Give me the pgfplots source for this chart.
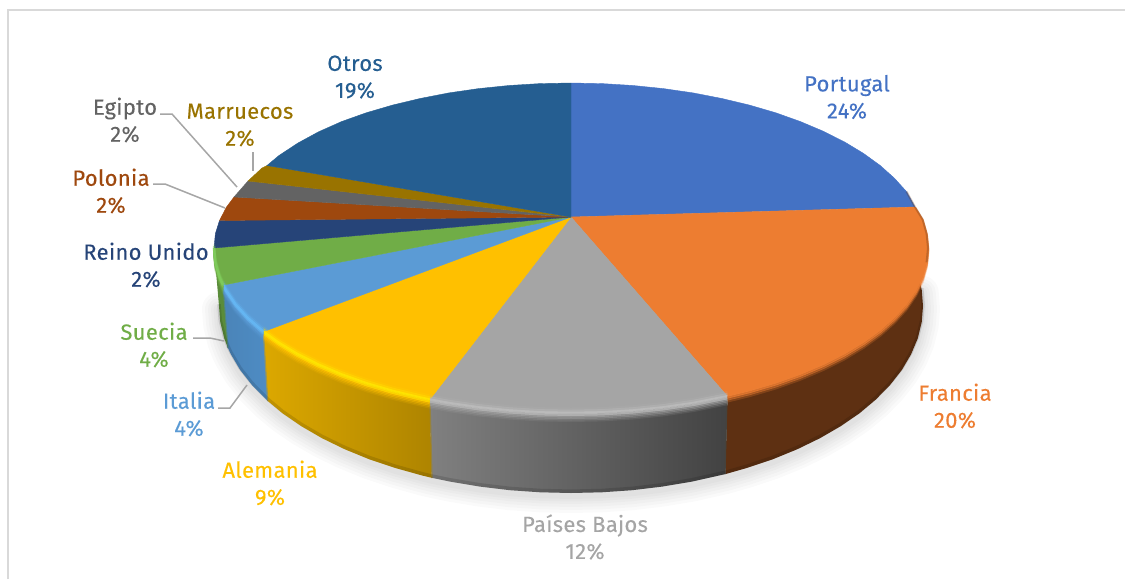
\documentclass[border=0pt]{standalone}
\usepackage{fontspec}
\setmainfont[FakeBold=0.12,LetterSpace=1.5]{Fira Sans}
\usepackage{pgfplots}
\usepackage{pgfplotstable}
\pgfplotsset{compat=1.18}
\definecolor{cPor}{HTML}{4472C4}
\definecolor{cFra}{HTML}{ED7D31}
\definecolor{cPai}{HTML}{A5A5A5}
\definecolor{cAle}{HTML}{FFC000}
\definecolor{cIta}{HTML}{5B9BD5}
\definecolor{cSue}{HTML}{70AD47}
\definecolor{cRei}{HTML}{264478}
\definecolor{cPol}{HTML}{9E480E}
\definecolor{cEgi}{HTML}{636363}
\definecolor{cMar}{HTML}{997300}
\definecolor{cOtr}{HTML}{255E91}
\definecolor{leader}{HTML}{A6A6A6}
\definecolor{frame}{HTML}{D9D9D9}
\definecolor{hiPai}{HTML}{BDBDBD}
\definecolor{hiAle}{HTML}{FFE600}
\definecolor{hiIta}{HTML}{66B8F5}
\definecolor{hiSue}{HTML}{80CC5C}
% top faces
\pgfplotstableread{
x y
571 217
571 83
602.1 83.6
633 85.5
663.4 88.6
693.1 92.9
721.9 98.5
749.5 105.1
775.8 112.8
800.5 121.6
823.4 131.3
844.5 141.9
863.5 153.4
880.2 165.5
894.5 178.3
906.5 191.6
915 207
}\topPor
\pgfplotstableread{
x y
915 207
922.6 219.4
926.6 233.6
928 248
926.6 262.4
922.6 276.6
915.8 290.7
906.5 304.4
894.5 317.7
880.2 330.5
863.5 342.6
844.5 354.1
823.4 364.7
800.5 374.4
775.8 383.2
749.5 390.9
727.5 396.3
}\arcFra
\pgfplotstableread{
x y
571 217
915 207
922.6 219.4
926.6 233.6
928 248
926.6 262.4
922.6 276.6
915.8 290.7
906.5 304.4
894.5 317.7
880.2 330.5
863.5 342.6
844.5 354.1
823.4 364.7
800.5 374.4
775.8 383.2
749.5 390.9
727.5 396.3
}\topFra
\pgfplotstableread{
x y
727.5 396.3
693.1 403.1
663.4 407.4
633 410.5
602.1 412.4
571 413
539.9 412.4
509 410.5
478.6 407.4
448.9 403.1
429.8 399.6
}\arcPai
\pgfplotstableread{
x y
571 217
727.5 396.3
693.1 403.1
663.4 407.4
633 410.5
602.1 412.4
571 413
539.9 412.4
509 410.5
478.6 407.4
448.9 403.1
429.8 399.6
}\topPai
\pgfplotstableread{
x y
429.8 399.6
420.1 397.5
392.5 390.9
366.2 383.2
341.5 374.4
318.6 364.7
297.5 354.1
278.5 342.6
263.4 331.7
}\arcAle
\pgfplotstableread{
x y
571 217
429.8 399.6
420.1 397.5
392.5 390.9
366.2 383.2
341.5 374.4
318.6 364.7
297.5 354.1
278.5 342.6
263.4 331.7
}\topAle
\pgfplotstableread{
x y
263.4 331.7
247.5 317.7
235.5 304.4
226.2 290.7
223.1 285.1
}\arcIta
\pgfplotstableread{
x y
571 217
263.4 331.7
247.5 317.7
235.5 304.4
226.2 290.7
223.1 285.1
}\topIta
\pgfplotstableread{
x y
223.1 285.1
219.4 276.6
215.4 262.4
214 248
}\arcSue
\pgfplotstableread{
x y
571 217
223.1 285.1
219.4 276.6
215.4 262.4
214 248
}\topSue
\pgfplotstableread{
x y
571 217
214 248
215.4 233.6
219.5 220.5
}\topRei
\pgfplotstableread{
x y
571 217
219.5 220.5
226.5 207
234 197
}\topPol
\pgfplotstableread{
x y
571 217
234 197
248 181
}\topEgi
\pgfplotstableread{
x y
571 217
248 181
262 168
267 165.5
}\topMar
\pgfplotstableread{
x y
571 217
267 165.5
279 155.5
298 143
318.6 131.8
341.5 121.6
366.2 112.8
392.5 105.1
420.1 98.5
448.9 92.9
478.6 88.6
509 85.5
539.9 83.6
571 83
}\topOtr
% side faces
\pgfplotstableread{
x y
915 207
922.6 219.4
926.6 233.6
928 248
926.6 262.4
922.6 276.6
915.8 290.7
906.5 304.4
894.5 317.7
880.2 330.5
863.5 342.6
844.5 354.1
823.4 364.7
800.5 374.4
775.8 383.2
749.5 390.9
727.5 396.3
725.3 474.1
747 467.9
772.9 459.2
797.3 449.2
819.9 438.2
840.6 426.2
859.4 413.3
875.8 399.5
890 385
901.8 370
911 354.4
917.7 338.5
921.7 322.3
923 306
921.7 289.7
917.7 273.5
911 257.6
}\sideFra
\pgfplotstableread{
x y
727.5 396.3
693.1 403.1
663.4 407.4
633 410.5
602.1 412.4
571 413
539.9 412.4
509 410.5
478.6 407.4
448.9 403.1
429.8 399.6
431.8 477.8
450.6 481.7
479.9 486.6
509.9 490.2
540.3 492.3
571 493
601.7 492.3
632.1 490.2
662.1 486.6
691.4 481.7
725.3 474.1
}\sidePai
\pgfplotstableread{
x y
429.8 399.6
420.1 397.5
392.5 390.9
366.2 383.2
341.5 374.4
318.6 364.7
297.5 354.1
278.5 342.6
263.4 331.7
267.7 400.9
282.6 413.3
301.4 426.2
322.1 438.2
344.7 449.2
369.1 459.2
395 467.9
422.2 475.5
431.8 477.8
}\sideAle
\pgfplotstableread{
x y
263.4 331.7
247.5 317.7
235.5 304.4
226.2 290.7
223.1 285.1
228 348.1
231 354.4
240.2 370
252 385
267.7 400.9
}\sideIta
\pgfplotstableread{
x y
223.1 285.1
219.4 276.6
215.4 262.4
214 248
219 306
220.3 322.3
224.3 338.5
228 348.1
}\sideSue
% bottom edge
\pgfplotstableread{
x y
921.7 289.7
923 306
921.7 322.3
917.7 338.5
911 354.4
901.8 370
890 385
875.8 399.5
859.4 413.3
840.6 426.2
819.9 438.2
797.3 449.2
772.9 459.2
747 467.9
725.3 474.1
691.4 481.7
662.1 486.6
632.1 490.2
601.7 492.3
571 493
540.3 492.3
509.9 490.2
479.9 486.6
450.6 481.7
431.8 477.8
422.2 475.5
395 467.9
369.1 459.2
344.7 449.2
322.1 438.2
301.4 426.2
282.6 413.3
267.7 400.9
252 385
240.2 370
231 354.4
228 348.1
224.3 338.5
220.3 322.3
219 306
}\botArc
\newcommand\rim[3]{%
  \addplot[#2,opacity=.15,line width=2pt,yshift=-8pt] table {#1};
  \addplot[#2,opacity=.3,line width=2pt,yshift=-6.5pt] table {#1};
  \addplot[#2,opacity=.5,line width=2pt,yshift=-5pt] table {#1};
  \addplot[#2,opacity=.7,line width=2pt,yshift=-3.5pt] table {#1};
  \addplot[#2,opacity=.9,line width=2pt,yshift=-2pt] table {#1};
  \addplot[#3,opacity=.5,line width=2pt,yshift=-2pt] table {#1};
  \addplot[#3,opacity=.9,line width=2.5pt,yshift=0pt] table {#1};
  \addplot[#3,opacity=.4,line width=2.5pt,yshift=2pt] table {#1};
  \addplot[#3,opacity=.12,line width=2.5pt,yshift=4pt] table {#1};
}
\newcommand\shad[1]{\addplot[black,opacity=.02,line width=#1pt,line join=round,line cap=round,yshift=-3pt] table {\botArc};}
\newcommand\lab[4]{\node[text=#3,align=center,inner sep=0pt,font=\fontsize{22}{27}\selectfont] at (axis cs:#1,#2) {#4};}
\begin{document}
\begin{tikzpicture}
\begin{axis}[
  scale only axis, width=1125pt, height=579pt,
  xmin=0, xmax=1125, ymin=0, ymax=579, y dir=reverse,
  axis line style={draw=none}, ticks=none, clip=true,
]
% frame
\addplot[frame,line width=2pt] coordinates {(8,579)(8,10)(1125,10)};
% soft shadow
\shad{34}\shad{28}\shad{22}\shad{16}\shad{11}\shad{6}
% sides
\addplot[draw=none,fill={rgb,255:red,94;green,48;blue,18}] table {\sideFra} --cycle;
\addplot[draw=none,left color={rgb,255:red,128;green,128;blue,128},right color={rgb,255:red,66;green,66;blue,66}] table {\sidePai} --cycle;
\addplot[draw=none,left color={rgb,255:red,220;green,168;blue,0},right color={rgb,255:red,174;green,132;blue,0}] table {\sideAle} --cycle;
\addplot[draw=none,left color={rgb,255:red,74;green,132;blue,184},right color={rgb,255:red,78;green,140;blue,196}] table {\sideIta} --cycle;
\addplot[draw=none,fill={rgb,255:red,90;green,140;blue,58}] table {\sideSue} --cycle;
% seams
\addplot[color={rgb,255:red,70;green,66;blue,60},line width=1.2pt] coordinates {(727,396)(725,474)};
\addplot[color={rgb,255:red,150;green,130;blue,60},line width=1.2pt] coordinates {(430,400)(432,478)};
\addplot[color={rgb,255:red,150;green,150;blue,90},line width=1.2pt] coordinates {(263.4,332)(267.7,401)};
\addplot[color={rgb,255:red,80;green,135;blue,130},line width=1pt] coordinates {(223,285)(228,348)};
% dark lower edge
\addplot[black,opacity=.12,line width=3.5pt,yshift=1.8pt] table {\botArc};
% top faces
\addplot[cPor,fill=cPor,line width=.4pt] table {\topPor} --cycle;
\addplot[cFra,fill=cFra,line width=.4pt] table {\topFra} --cycle;
\addplot[cPai,fill=cPai,line width=.4pt] table {\topPai} --cycle;
\addplot[cAle,fill=cAle,line width=.4pt] table {\topAle} --cycle;
\addplot[cIta,fill=cIta,line width=.4pt] table {\topIta} --cycle;
\addplot[cSue,fill=cSue,line width=.4pt] table {\topSue} --cycle;
\addplot[cRei,fill=cRei,line width=.4pt] table {\topRei} --cycle;
\addplot[cPol,fill=cPol,line width=.4pt] table {\topPol} --cycle;
\addplot[cEgi,fill=cEgi,line width=.4pt] table {\topEgi} --cycle;
\addplot[cMar,fill=cMar,line width=.4pt] table {\topMar} --cycle;
\addplot[cOtr,fill=cOtr,line width=.4pt] table {\topOtr} --cycle;
% bevels
\rim{\arcPai}{cPai}{hiPai}
\rim{\arcAle}{cAle}{hiAle}
\rim{\arcIta}{cIta}{hiIta}
\rim{\arcSue}{cSue}{hiSue}
\addplot[cFra,opacity=.25,line width=2.5pt,yshift=-5pt] table {\arcFra};
\addplot[cFra,opacity=.55,line width=2.5pt,yshift=-3pt] table {\arcFra};
\addplot[cFra,opacity=.85,line width=2.5pt,yshift=-1pt] table {\arcFra};
\addplot[black!60!cFra,opacity=.3,line width=2pt] coordinates {(906.5,191.6)(915,207)(922.6,219.4)(926.6,233.6)(928,248)(926.6,262.4)};
% leader lines
\addplot[leader,line width=1.5pt] coordinates {(253,152)(253,171)};
\addplot[leader,line width=1.5pt] coordinates {(160,114)(172,114)(237,187)};
\addplot[leader,line width=1.5pt] coordinates {(153,184)(165,184)(225,208)};
\addplot[leader,line width=1.5pt] coordinates {(193,338)(210,338)(224,341)};
\addplot[leader,line width=1.5pt] coordinates {(218,408)(230,408)(247,385)};
% labels
\lab{847}{97}{cPor}{Portugal\\24\%}
\lab{955}{406}{cFra}{Francia\\20\%}
\lab{585}{537}{cPai}{Países Bajos\\12\%}
\lab{270}{483}{cAle}{Alemania\\9\%}
\lab{189}{414}{cIta}{Italia\\4\%}
\lab{154}{345}{cSue}{Suecia\\4\%}
\lab{146}{265}{cRei}{Reino Unido\\2\%}
\lab{111}{191}{cPol}{Polonia\\2\%}
\lab{125}{120}{cEgi}{Egipto\\2\%}
\lab{240}{125}{cMar}{Marruecos\\2\%}
\lab{355}{77}{cOtr}{Otros\\19\%}
\end{axis}
\end{tikzpicture}
\end{document}
